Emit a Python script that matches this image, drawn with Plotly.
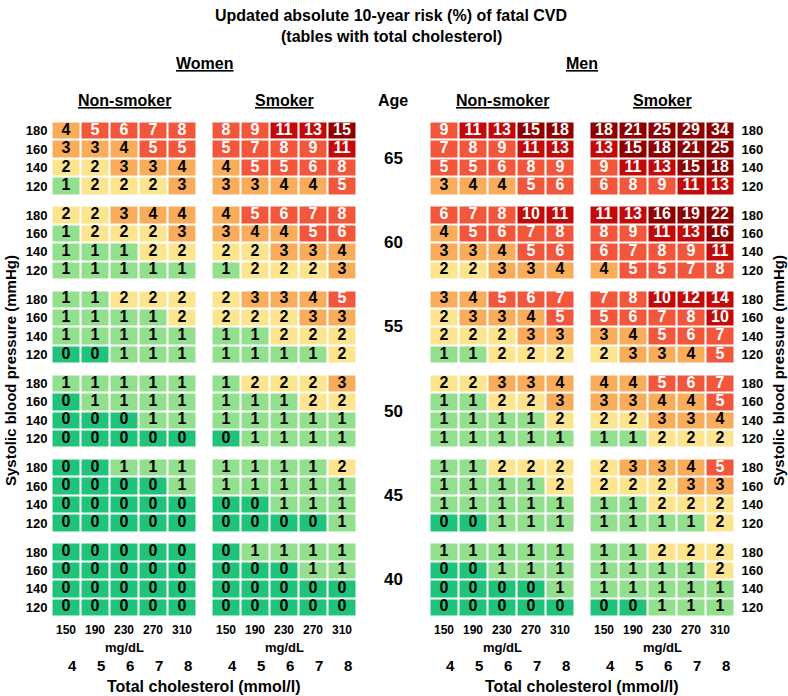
import plotly.graph_objects as go

# ---------------- data ----------------
ages = [65, 60, 55, 50, 45, 40]              # top -> bottom
sbp = [180, 160, 140, 120]                   # top -> bottom within an age block
chol_mgdl = [150, 190, 230, 270, 310]
chol_mmol = [4, 5, 6, 7, 8]

women_nonsmoker = [
    [[4, 5, 6, 7, 8], [3, 3, 4, 5, 5], [2, 2, 3, 3, 4], [1, 2, 2, 2, 3]],
    [[2, 2, 3, 4, 4], [1, 2, 2, 2, 3], [1, 1, 1, 2, 2], [1, 1, 1, 1, 1]],
    [[1, 1, 2, 2, 2], [1, 1, 1, 1, 2], [1, 1, 1, 1, 1], [0, 0, 1, 1, 1]],
    [[1, 1, 1, 1, 1], [0, 1, 1, 1, 1], [0, 0, 0, 1, 1], [0, 0, 0, 0, 0]],
    [[0, 0, 1, 1, 1], [0, 0, 0, 0, 1], [0, 0, 0, 0, 0], [0, 0, 0, 0, 0]],
    [[0, 0, 0, 0, 0], [0, 0, 0, 0, 0], [0, 0, 0, 0, 0], [0, 0, 0, 0, 0]],
]
women_smoker = [
    [[8, 9, 11, 13, 15], [5, 7, 8, 9, 11], [4, 5, 5, 6, 8], [3, 3, 4, 4, 5]],
    [[4, 5, 6, 7, 8], [3, 4, 4, 5, 6], [2, 2, 3, 3, 4], [1, 2, 2, 2, 3]],
    [[2, 3, 3, 4, 5], [2, 2, 2, 3, 3], [1, 1, 2, 2, 2], [1, 1, 1, 1, 2]],
    [[1, 2, 2, 2, 3], [1, 1, 1, 2, 2], [1, 1, 1, 1, 1], [0, 1, 1, 1, 1]],
    [[1, 1, 1, 1, 2], [1, 1, 1, 1, 1], [0, 0, 1, 1, 1], [0, 0, 0, 0, 1]],
    [[0, 1, 1, 1, 1], [0, 0, 0, 1, 1], [0, 0, 0, 0, 0], [0, 0, 0, 0, 0]],
]
men_nonsmoker = [
    [[9, 11, 13, 15, 18], [7, 8, 9, 11, 13], [5, 5, 6, 8, 9], [3, 4, 4, 5, 6]],
    [[6, 7, 8, 10, 11], [4, 5, 6, 7, 8], [3, 3, 4, 5, 6], [2, 2, 3, 3, 4]],
    [[3, 4, 5, 6, 7], [2, 3, 3, 4, 5], [2, 2, 2, 3, 3], [1, 1, 2, 2, 2]],
    [[2, 2, 3, 3, 4], [1, 1, 2, 2, 3], [1, 1, 1, 1, 2], [1, 1, 1, 1, 1]],
    [[1, 1, 2, 2, 2], [1, 1, 1, 1, 2], [1, 1, 1, 1, 1], [0, 0, 1, 1, 1]],
    [[1, 1, 1, 1, 1], [0, 0, 1, 1, 1], [0, 0, 0, 0, 1], [0, 0, 0, 0, 0]],
]
men_smoker = [
    [[18, 21, 25, 29, 34], [13, 15, 18, 21, 25], [9, 11, 13, 15, 18], [6, 8, 9, 11, 13]],
    [[11, 13, 16, 19, 22], [8, 9, 11, 13, 16], [6, 7, 8, 9, 11], [4, 5, 5, 7, 8]],
    [[7, 8, 10, 12, 14], [5, 6, 7, 8, 10], [3, 4, 5, 6, 7], [2, 3, 3, 4, 5]],
    [[4, 4, 5, 6, 7], [3, 3, 4, 4, 5], [2, 2, 3, 3, 4], [1, 1, 2, 2, 2]],
    [[2, 3, 3, 4, 5], [2, 2, 2, 3, 3], [1, 1, 2, 2, 2], [1, 1, 1, 1, 2]],
    [[1, 1, 2, 2, 2], [1, 1, 1, 1, 2], [1, 1, 1, 1, 1], [0, 0, 1, 1, 1]],
]

panel_data = [women_nonsmoker, women_smoker, men_nonsmoker, men_smoker]
panel_titles = ["Non-smoker", "Smoker", "Non-smoker", "Smoker"]

# ---------------- style ----------------
W, H = 788, 696
colors = ['#1fc47a', '#92df8d', '#fde48f', '#f9ac5a', '#f2563b', '#c20a0a', '#8e0000']
FONT = "Liberation Sans, Arial, Helvetica, sans-serif"
NARROW = "Liberation Sans Narrow, Arial Narrow, Liberation Sans, Arial, sans-serif"


def cat(v):
    if v <= 2:
        return v
    if v <= 4:
        return 3
    if v <= 9:
        return 4
    if v <= 14:
        return 5
    return 6


def px(x):
    return x / W


def py(y):
    return 1 - y / H


G = 0.575          # gap between age blocks, in row units
S = 4 + G          # block step
nb = len(ages)

colorscale = []
for i, c in enumerate(colors):
    colorscale.append([i / len(colors), c])
    colorscale.append([(i + 1) / len(colors), c])

x_domains = [(51.5, 196.5), (211.5, 356.5), (429.5, 574.5), (589.5, 734.5)]
y_top, y_bot = 121.5, 616.5

edges = []
for k in range(nb):
    base = k * S
    for j in range(4):
        edges.append(base + j - 0.5)
    if k < nb - 1:
        edges.append(base + 3.5)
edges.append((nb - 1) * S + 3.5)

fig = go.Figure()

for p, data in enumerate(panel_data):
    xa = 'x' if p == 0 else f'x{p + 1}'
    ya = 'y2' if p == 3 else 'y'
    z = []
    tx, ty, tt, tc = [], [], [], []
    for k in range(nb):
        block = data[nb - 1 - k]
        for j in range(4):
            row = block[3 - j]
            z.append([cat(v) for v in row])
            for c, v in enumerate(row):
                tx.append(c)
                ty.append(k * S + j)
                tt.append(str(v))
                tc.append('white' if v >= 5 else 'black')
        if k < nb - 1:
            z.append([None] * 5)
    fig.add_trace(go.Heatmap(
        z=z, x=list(range(5)), y=edges, xaxis=xa, yaxis=ya,
        colorscale=colorscale, zmin=-0.5, zmax=len(colors) - 0.5,
        showscale=False, xgap=2, ygap=2, hoverinfo='skip'))
    fig.add_trace(go.Scatter(
        x=tx, y=ty, text=tt, mode='text', xaxis=xa, yaxis=ya,
        textfont=dict(family=FONT, size=16, color=tc, weight='bold'),
        textposition='middle center', hoverinfo='skip', showlegend=False))

yrange = [-0.5, (nb - 1) * S + 3.5]
ytickvals = [k * S + j for k in range(nb) for j in range(4)]
yticktext = [str(sbp[3 - j]) for k in range(nb) for j in range(4)]

layout = dict(
    width=W, height=H, margin=dict(l=0, r=0, t=0, b=0),
    paper_bgcolor='white', plot_bgcolor='white', showlegend=False,
    font=dict(family=FONT, color='black'),
)
for p in range(4):
    key = 'xaxis' if p == 0 else f'xaxis{p + 1}'
    layout[key] = dict(
        domain=[px(x_domains[p][0]), px(x_domains[p][1])], range=[-0.5, 4.5],
        tickvals=list(range(5)), ticktext=[str(v) for v in chol_mgdl],
        showgrid=False, zeroline=False, showline=False, ticks='',
        tickfont=dict(family=FONT, size=12, weight='bold', color='black'),
        anchor='y2' if p == 3 else 'y', fixedrange=True, ticklabelstandoff=4)
ydom = [py(y_bot), py(y_top)]
layout['yaxis'] = dict(domain=ydom, range=yrange, tickvals=ytickvals, ticktext=yticktext,
                       showgrid=False, zeroline=False, showline=False, ticks='',
                       tickfont=dict(family=FONT, size=13, weight='bold', color='black'),
                       anchor='x', side='left', fixedrange=True, ticklabelstandoff=3)
layout['yaxis2'] = dict(domain=ydom, range=yrange, tickvals=ytickvals, ticktext=yticktext,
                        showgrid=False, zeroline=False, showline=False, ticks='',
                        tickfont=dict(family=FONT, size=13, weight='bold', color='black'),
                        anchor='x4', side='right', fixedrange=True, ticklabelstandoff=6)
fig.update_layout(**layout)

ann = []


def add(text, x, y, size, fam=NARROW, xref='paper', yref='paper', angle=0, xshift=0):
    ann.append(dict(text=text, x=x, y=y, xref=xref, yref=yref, showarrow=False,
                    textangle=angle, xanchor='center', yanchor='middle', xshift=xshift,
                    font=dict(family=fam, size=size, color='black', weight='bold')))


add("Updated absolute 10-year risk (%) of fatal CVD", px(391), py(16), 16)
add("(tables with total cholesterol)", px(391), py(37), 16)
add("<u>Women</u>", px(204), py(63), 16)
add("<u>Men</u>", px(582), py(63), 16)
for p in range(4):
    cx = (x_domains[p][0] + x_domains[p][1]) / 2
    add(f"<u>{panel_titles[p]}</u>", px(cx), py(100), 16)
add("Age", px(393), py(100), 16)
for i, a in enumerate(ages):
    k = nb - 1 - i
    add(str(a), px(393), k * S + 1.5, 17, fam=FONT, yref='y')

for p in range(4):
    xa = 'x' if p == 0 else f'x{p + 1}'
    cx = (x_domains[p][0] + x_domains[p][1]) / 2
    add("mg/dL", px(cx), py(647), 13, fam=FONT)
    for c, m in enumerate(chol_mmol):
        add(str(m), c, py(665), 15, fam=FONT, xref=xa, xshift=6)

for cx in (204, 582):
    add("Total cholesterol (mmol/l)", px(cx), py(686), 16, fam=FONT)

add("Systolic blood pressure (mmHg)", px(10), py(371), 15, fam=FONT, angle=-90)
add("Systolic blood pressure (mmHg)", px(778), py(371), 15, fam=FONT, angle=-90)

fig.update_layout(annotations=ann)
fig.write_html("out.html", config={'displayModeBar': False},
               post_script="document.body.style.margin='0px';document.body.style.overflow='hidden';")
